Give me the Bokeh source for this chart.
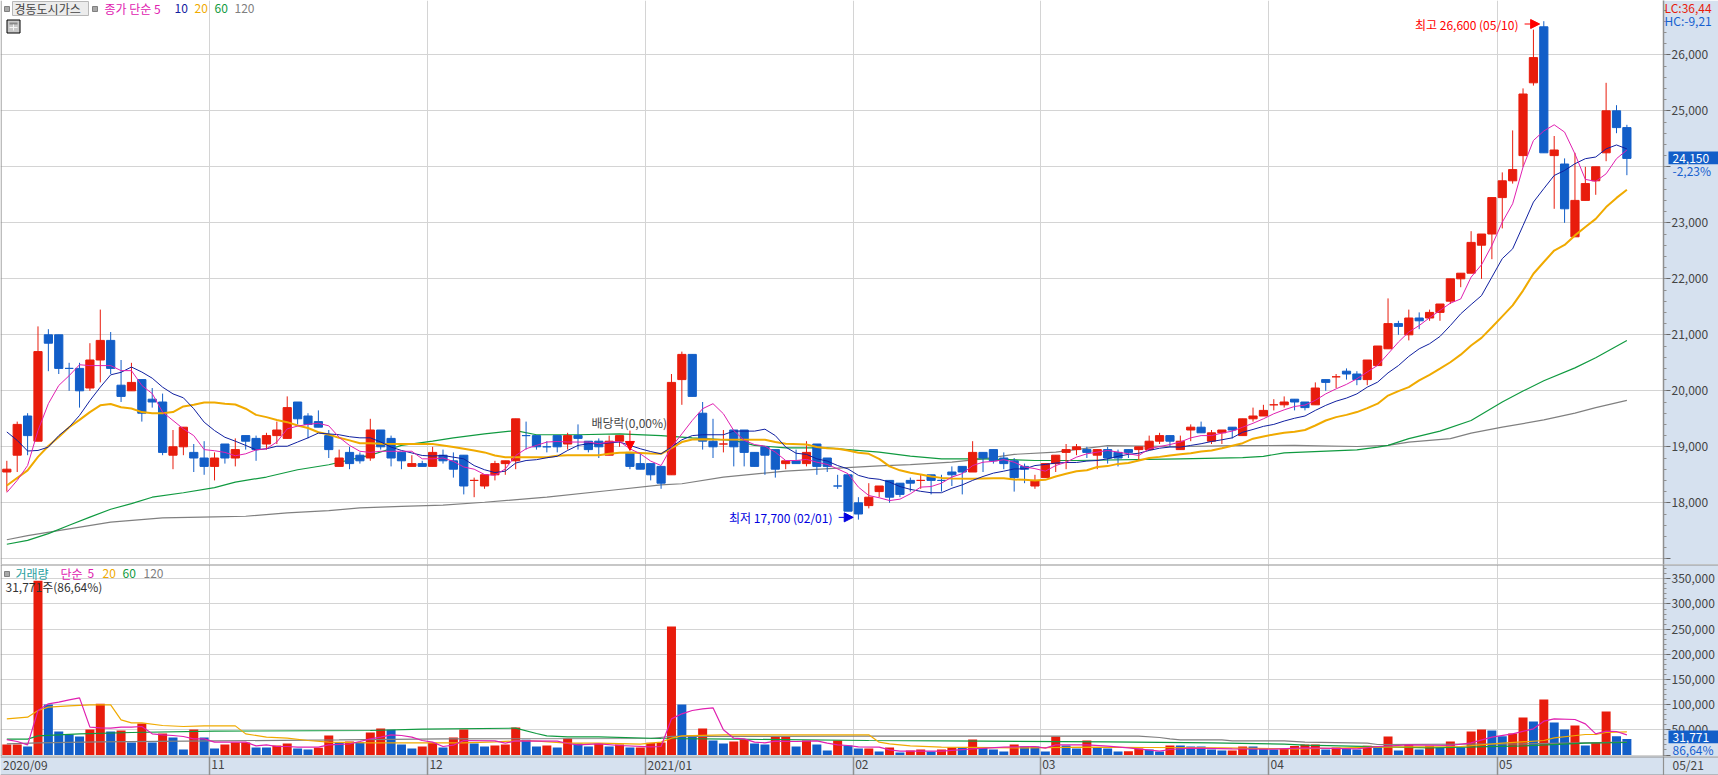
from bokeh.plotting import figure
from bokeh.layouts import column
from bokeh.models import (Label, BoxAnnotation, FixedTicker, Grid, Arrow, NormalHead, Range1d,
                          NumeralTickFormatter, Span, ColumnDataSource)
from bokeh.embed import file_html
from bokeh.resources import INLINE

# ---------- price data (KRW) ----------
opens = [18550,18850,19550,19100,21000,21000,20400,20400,20050,20550,20900,20100,20000,20200,19850,19800,18850,19000,18900,18800,
18650,19050,18800,19200,19150,19050,19200,19150,19800,19550,19450,19200,18650,18900,18850,18800,19300,19150,18900,18650,
18700,18650,18850,18750,18850,18400,18300,18500,18700,18750,19200,19200,19000,19200,19050,19200,19100,19100,18850,19100,
18900,18700,18700,18650,18500,20200,20650,19600,19100,19050,19300,19300,18900,19000,18950,18700,18750,18700,19050,18800,
18300,18500,18000,17950,18200,18400,18350,18400,18400,18500,18400,18550,18650,18550,18900,18950,18800,18750,18650,18300,
18450,18700,18900,18950,18950,18850,18950,18900,18950,18950,18950,19100,19200,18950,19300,19350,19100,19250,19350,19200,
19500,19550,19750,19750,19850,19800,19750,20200,20250,20350,20300,20200,20450,20750,21200,21000,21300,21300,21400,21600,
22000,22100,22600,22800,23450,23750,24200,25500,26500,24200,24050,22750,23400,23750,24250,25000,24700]
highs = [18750,19450,19600,21150,21100,21000,20500,20500,20850,21450,21050,20550,20500,20200,20050,19950,19300,19350,19050,19100,
18900,19050,19150,19200,19200,19250,19450,19900,19800,19600,19650,19300,18950,19000,18900,19500,19300,19200,18900,18850,
18750,19000,18950,18900,18850,18450,18500,18750,18750,19500,19450,19200,19100,19200,19250,19400,19100,19150,19200,19200,
18900,18900,18700,18650,20300,20700,20650,19800,19500,19300,19300,19300,18900,19000,18950,18750,18950,19100,19050,18800,
18500,18500,18100,18350,18300,18400,18350,18450,18500,18500,18500,18650,18650,19100,18900,18950,18900,18800,18700,18500,
18700,18850,19050,19050,19000,18950,19000,18950,18950,19000,19200,19250,19200,19200,19400,19450,19300,19300,19350,19500,
19700,19750,19850,19900,19850,19800,20150,20200,20300,20400,20350,20550,20800,21650,21250,21450,21400,21450,21550,22000,
22100,22850,22800,23450,23900,24650,25400,26450,26600,24550,24150,24250,24000,24000,25500,25100,24750]
lows = [18200,18550,18850,19100,20350,20300,20000,19700,20000,20150,20300,19800,20000,19450,19700,18850,18600,18850,18550,18500,
18400,18700,18650,18950,18750,18950,19050,19150,19400,19150,19350,18800,18650,18600,18700,18750,18950,18650,18600,18650,
18650,18650,18700,18450,18150,18100,18250,18400,18500,18600,18950,18950,18900,18900,18950,18950,18900,18800,18850,19000,
18600,18600,18400,18250,18500,19750,19900,18950,18800,18900,18650,18650,18650,18500,18450,18600,18700,18650,18500,18550,
18250,17850,17700,17900,18100,18000,18100,18200,18250,18150,18200,18300,18150,18550,18550,18700,18600,18200,18350,18250,
18450,18550,18600,18850,18800,18600,18700,18650,18800,18750,18950,19050,19000,18950,19100,19250,19050,19050,19150,19200,
19450,19550,19650,19700,19650,19650,19750,20000,20050,20200,20100,20100,20450,20750,21000,20900,21100,21250,21250,21550,
21850,22100,22000,22350,22900,23700,24000,25450,24250,23250,23000,22750,23400,23500,24100,24600,23850]
closes = [18600,19400,19200,20700,20850,20400,20400,20000,20550,20900,20400,19900,20150,19600,19800,18900,19000,19350,18800,18650,
18800,18800,18950,19100,18950,19200,19300,19700,19500,19400,19350,18950,18800,18700,18750,19300,19000,18800,18750,18700,
18650,18900,18750,18600,18300,18400,18500,18700,18750,19500,19200,19000,19000,19000,19200,19150,18950,19000,19100,19200,
18650,18600,18500,18350,20150,20650,19900,19100,19000,19050,19000,18900,18650,18850,18600,18750,18700,18900,18650,18650,
18300,17850,17800,18100,18300,18100,18150,18350,18400,18400,18400,18500,18550,18900,18800,18750,18700,18450,18600,18400,
18700,18850,18950,19000,18900,18950,18800,18800,18900,19000,19100,19200,19100,19100,19350,19250,19250,19300,19300,19500,
19550,19650,19750,19800,19800,19700,20050,20150,20250,20300,20200,20550,20800,21200,21150,21300,21250,21400,21550,22000,
22100,22650,22800,23450,23750,23950,25300,25950,24250,24300,23250,23400,23700,24000,25000,24700,24150]
doji_red = [45, 69, 88, 122, 128]

ma5 = [18185,18400,18665,19290,19770,20095,20270,20465,20450,20450,20450,20360,20360,20095,19950,19620,19470,19320,19200,18950,
18930,18900,18840,18875,18945,18965,19085,19320,19370,19400,19420,19375,19170,19025,18920,18900,18920,18920,18920,18920,18785,18785,
18800,18740,18640,18600,18505,18490,18605,18845,18965,19025,19085,19095,19085,19085,19085,19055,19085,19095,18965,18875,18745,18665,
18995,19230,19470,19680,19770,19590,19290,19115,19040,19010,18905,18755,18755,18775,18725,18685,18605,18520,18280,
18130,18090,18040,18065,18160,18280,18290,18350,18460,18520,18665,18725,18740,18770,18725,18640,18610,18565,18665,18725,18815,18875,
18905,18935,18905,18875,18845,18965,19005,19040,19085,19160,19200,19200,19245,19280,
19350,19420,19500,19590,19660,19720,19745,19830,19945,20035,20115,20215,20335,20455,20660,20870,21050,21165,21305,21435,21565,21640,
22030,22250,22595,23010,23340,23995,24470,24640,24750,24620,24230,23775,23740,23875,24145,24300]
ma10 = [19265,19115,18925,18935,18995,19200,19350,19560,19825,20065,20285,20330,20425,20335,20225,20065,19945,19875,19680,19440,
19290,19170,19100,19025,18945,18965,19010,19010,19085,19160,19245,19230,19215,19180,19160,19160,19085,18995,18935,18890,18845,18835,
18845,18815,18785,18665,18590,18540,18565,18710,18755,18770,18805,18830,18935,19025,19055,19055,19070,19085,19025,18965,18915,18875,
18995,19125,19200,19215,19215,19215,19280,19280,19280,19315,19200,18995,18885,18865,18785,18745,18665,18605,18490,
18440,18420,18370,18290,18240,18205,18180,18180,18260,18320,18400,18470,18530,18565,18605,18605,18665,18685,18710,18720,18720,18745,
18755,18785,18830,18865,18885,18935,18975,18995,18995,19025,19055,19095,19125,19160,
19260,19310,19365,19400,19460,19510,19550,19650,19740,19815,19870,19945,20065,20155,20320,20450,20615,20750,20840,20970,21165,21375,21540,21700,
22030,22360,22535,22950,23370,23610,23845,23935,24055,24145,24175,24320,24390,24320]
ma20 = [(0,18310),(2,18580),(3,18820),(4,19015),(5,19175),(6,19350),(7,19480),(8,19620),(9,19740),(10,19765),(11,19705),(12,19685),
(13,19620),(14,19600),(15,19600),(16,19620),(17,19720),(18,19750),(19,19790),(20,19790),(21,19770),(22,19755),(23,19680),(24,19570),
(25,19530),(26,19480),(27,19440),(28,19380),(29,19335),(30,19260),(31,19220),(32,19160),(33,19115),(34,19065),(35,19065),(36,19055),
(38,19050),(41,19050),(42,19025),(43,18995),(44,18965),(45,18935),(46,18900),(47,18845),(48,18815),(52,18815),(53,18840),(54,18850),
(57,18850),(58,18875),(59,18895),(60,18900),(62,18880),(63,18875),(64,18975),(65,19085),(66,19130),(67,19135),(68,19130),(73,19125),
(74,19085),(75,19055),(77,19040),(78,18995),(79,18975),(80,18965),(81,18935),(82,18895),(83,18875),(84,18785),(85,18650),(86,18580),
(87,18535),(88,18505),(89,18470),(90,18445),(91,18435),(93,18430),(95,18440),(96,18440),(97,18415),(98,18410),(99,18400),(100,18410),
(101,18470),(102,18520),(103,18565),(104,18580),(105,18640),(106,18655),(107,18695),(108,18710),(109,18755),(110,18800),(111,18820),
(112,18845),(113,18865),(114,18885),(115,18915),(116,18935),(117,18975),(118,19020),(119,19065),(120,19145),(121,19185),(122,19220),
(123,19250),(124,19270),(125,19300),(126,19380),(127,19470),(128,19530),(129,19570),(130,19620),(131,19690),(132,19770),(133,19915),
(134,19995),(135,20065),(136,20185),(137,20285),(138,20395),(139,20510),(140,20645),(141,20810),(142,20945),(143,21135),(144,21330),
(145,21525),(146,21790),(147,22090),(148,22300),(149,22505),(150,22605),(151,22775),(152,22925),(153,23070),(154,23280),(155,23445),(156,23590)]
ma60 = [(0,17260),(2,17330),(4,17450),(6,17600),(8,17745),(10,17885),(12,17985),(14,18100),(17,18180),(20,18270),(22,18370),(25,18460),
(28,18590),(31,18680),(35,18850),(38,19025),(41,19100),(43,19160),(46,19230),(49,19290),(51,19215),(55,19215),(59,19230),(63,19200),
(66,19160),(70,19115),(72,19025),(75,18980),(79,18980),(81,18950),(84,18905),(87,18835),(90,18785),(94,18785),(99,18755),(103,18755),
(113,18785),(119,18805),(121,18830),(123,18890),(130,18945),(132,18995),(133,19025),(135,19145),(138,19280),(141,19470),(144,19800),
(146,19995),(148,20180),(151,20410),(153,20590),(156,20900)]
ma120 = [(0,17340),(2,17415),(6,17535),(10,17655),(15,17730),(20,17750),(23,17760),(27,17820),(31,17860),(34,17910),(38,17935),(42,17960),
(46,18010),(52,18100),(58,18220),(63,18320),(65,18340),(69,18460),(75,18565),(80,18620),(84,18660),(87,18680),(91,18725),(94,18785),
(97,18865),(101,18905),(106,19020),(113,19005),(118,19020),(124,19025),(130,19005),(133,19025),(135,19085),(139,19145),(141,19245),
(144,19350),(148,19480),(151,19600),(153,19700),(156,19830)]

# ---------- volume data ----------
volume = [20900,21000,16900,346000,100300,46700,40700,36700,50600,101600,46700,48700,24800,62600,24800,42700,34800,10900,50600,34800,
12900,20900,24800,24900,14900,14900,18900,22800,12900,10900,14200,38700,24800,26800,24800,44700,52600,50000,20900,12900,16900,24200,
14900,34800,50600,22800,16900,18900,20900,54600,30100,16900,18900,14900,32800,22800,16900,22800,16900,20900,14900,15000,24200,24900,
255200,100300,36700,52600,28800,22800,26800,30800,22800,20900,36700,36700,16900,28800,20900,8900,28800,18900,12900,12900,
7000,14900,5000,8900,10900,7000,10900,14900,14900,30800,14900,10900,7000,20900,16900,16900,7000,36700,18900,12900,28800,14900,12900,
7000,7500,12900,10900,7000,18900,18900,16900,16900,10900,8900,9000,16900,16900,12900,10900,12900,
18000,20900,20950,10900,14900,12900,10900,18200,16900,36700,8900,20900,10900,18200,14900,26800,14900,46700,50600,48700,37400,42700,
74500,66500,110200,64500,50600,58600,18900,25500,86400,37400,31771]
volume_updown = ("RRBRBBBBRR" "BRBRBRBBRB" "BRRRBBRRBB" "RRBRBRRBBB" "RR"
                 "BRRBBRRRBB" "RBRBBRBRBR" "RRRBBRBBRR" "BBRRBRBBRB" "BRBRBRRBRR"
                 "BRBBBRBBBR" "BBRBBBRRBB" "RBBBBBRRBB" "BRRRRBRBBR" "BRBRBRBRBR" "RBBRRBRBBR" "BRRBB")
vol_ma5 = [(0,30700),(1,26800),(2,20200),(3,88400),(4,101600),(5,104900),(6,109500),(7,113500),(8,55300),(9,53900),(10,53300),(11,55300),
(12,55300),(13,56600),(14,42000),(15,40000),(16,38700),(17,36700),(18,32100),(19,32100),(20,25500),(23,25500),(24,18200),(25,20200),
(26,16900),(27,16900),(28,15600),(30,15600),(31,20200),(33,22200),(34,26800),(35,32100),(36,35400),(37,40000),(38,38700),(39,35400),
(40,28800),(41,25500),(42,16900),(43,19500),(44,28800),(47,28100),(48,23500),(49,28100),(53,27500),(54,22800),(55,20200),(57,22200),
(59,18900),(62,16200),(63,16900),(64,71800),(65,81800),(66,88400),(67,91700),(68,93700),(69,50000),(70,33400),(71,32100),(72,25500),
(73,24200),(74,27500),(76,26800),(78,28100),(79,23500),(80,20200),(81,18900),(82,16200),(84,15600),(85,10300),(86,7600),(90,7600),
(93,12200),(96,15600),(99,16900),(100,13600),(101,20200),(104,20200),(106,17500),(108,14200),(111,7600),(112,10900),(114,13600),
(118,12200),(122,11600),(125,14200),(130,12200),(132,16900),(135,20200),(139,18900),(141,24200),(143,35400),(145,42000),(147,52000),
(148,67200),(149,71800),(151,70500),(152,61900),(153,42000),(154,47300),(155,46700),(156,40000)]
vol_ma20 = [(0,71800),(2,75100),(3,88400),(4,95000),(6,97600),(8,99600),(10,99600),(11,69800),(12,63900),(13,63900),(15,58600),(17,56600),
(19,57900),(22,57900),(23,42000),(25,35400),(27,33400),(29,28800),(31,25500),(35,24200),(38,24200),(44,24200),(47,26100),(50,28800),
(54,23500),(57,23500),(61,21500),(63,25500),(64,33400),(65,38100),(69,40000),(83,40000),(84,25500),(85,22200),(87,18200),(90,15600),
(98,14200),(104,15600),(110,14900),(117,14200),(124,12200),(128,13600),(132,15600),(140,16900),(144,23500),(148,28800),(149,34100),
(152,40700),(153,40700),(154,44700),(156,46000)]
vol_ma60 = [(0,31400),(2,31400),(3,38000),(7,42000),(12,44700),(20,47300),(35,48700),(40,51300),(49,53300),(51,42700),(52,38100),(54,36100),
(57,36100),(63,32800),(70,31400),(83,28800),(94,27500),(106,26100),(116,24200),(123,21500),(125,19500),(137,14200),(146,18200),(152,23500),(156,24800)]
vol_ma120 = [(0,22200),(3,24200),(9,26100),(20,28100),(32,30100),(42,32100),(62,32800),(64,37000),(82,37400),(109,37400),(111,34800),(112,32100),
(113,30100),(117,30100),(118,28100),(123,28100),(125,25500),(131,23500),(132,20900),(146,22200),(156,25500)]

# ---------- axis data ----------
price_ticks = [17000,18000,19000,20000,21000,22000,23000,24000,25000,26000]
volume_ticks = [0,50000,100000,150000,200000,250000,300000,350000]
month_ticks = [19.5,40.5,61.5,81.5,99.5,121.5,143.5]
month_names = ["11","12","2021/01","02","03","04","05"]

RED, BLUE = "#e81c0c", "#125ec8"
C5, C10, C20, C60, C120 = "#e020b0", "#1020a0", "#f0aa00", "#109a40", "#808080"
GRID, EDGE, BAND, TXT = "#d4d4d4", "#909090", "#d6e1ef", "#444444"
FONT = "Noto Sans CJK KR"
W, RIGHT = 1718, 55
PX0, PXS = 6.33, 10.385
XS, XE = -PX0 / PXS, (W - RIGHT - PX0) / PXS
H1, H2, H3 = 564, 192, 19
V_TOP, D_TOP = H1, H1 + H2
PAGE_H = H1 + H2 + H3


def lab(fig, H, top0, text, x, y, color=TXT, size="12px", align="left"):
    fig.add_layout(Label(x=x, y=H - (y - top0), x_units="screen", y_units="screen", text=text, text_color=color,
                         text_font=FONT, text_font_size=size, text_align=align, text_baseline="middle"))


def box(fig, H, top0, x0, y0, x1, y1, fill, line=None):
    fig.add_layout(BoxAnnotation(left=x0, right=x1, top=H - (y0 - top0), bottom=H - (y1 - top0),
                                 left_units="screen", right_units="screen", top_units="screen", bottom_units="screen",
                                 fill_color=fill, fill_alpha=1, line_color=line, line_alpha=1 if line else 0, line_width=1))


def style_axis(ax, ticks, minors, hide):
    ax.ticker = FixedTicker(ticks=ticks, minor_ticks=minors)
    ax.formatter = NumeralTickFormatter(format="0,0")
    ax.major_label_overrides = {hide_v: "" for hide_v in hide}
    ax.major_label_text_font = FONT
    ax.major_label_text_font_size = "12px"
    ax.major_label_text_color = TXT
    ax.major_label_standoff = 1
    ax.axis_line_color = EDGE
    ax.axis_line_width = 1.5
    ax.major_tick_line_color = "#666666"
    ax.minor_tick_line_color = EDGE
    ax.major_tick_in = 0
    ax.major_tick_out = 7
    ax.minor_tick_in = 0
    ax.minor_tick_out = 3


def panel(h, ystart, yend, right_axis=True):
    f = figure(width=W, height=h, x_range=Range1d(XS, XE), y_range=Range1d(ystart, yend),
               x_axis_location=None, y_axis_location="right" if right_axis else None,
               toolbar_location=None, output_backend="svg", frame_align=False,
               min_border_left=0, min_border_top=0, min_border_bottom=0, min_border_right=RIGHT,
               outline_line_color=None, background_fill_color="white", border_fill_color=BAND)
    f.xgrid.visible = False
    f.add_layout(Grid(dimension=0, ticker=FixedTicker(ticks=month_ticks), grid_line_color=GRID, grid_line_width=1))
    f.add_layout(Span(location=XS + 0.6 / PXS, dimension="height", line_color=EDGE, line_width=1))
    return f


def line(f, pairs, color, width):
    f.line([a for a, _ in pairs], [b for _, b in pairs], line_color=color, line_width=width)


n = len(closes)
xs = list(range(n))
bar_col = [RED if (c > o or (c == o and i in doji_red)) else BLUE for i, (o, c) in enumerate(zip(opens, closes))]

# ---------- price panel: 56 px per 1,000 with 26,000 at y = 54.3 ----------
P_PX = 0.056
py = lambda y: 26000 + (54.3 - y) / P_PX
p = panel(H1, py(H1), py(0))
style_axis(p.yaxis[0], price_ticks, list(range(17000, 27000, 200)), [17000, 24000])
p.ygrid.ticker = FixedTicker(ticks=price_ticks)
p.ygrid.grid_line_color = GRID

line(p, ma120, C120, 1.2)
line(p, ma60, C60, 1.2)
src = ColumnDataSource(dict(x=xs, o=opens, h=highs, l=lows, c=closes, col=bar_col,
                            top=[max(a, b) for a, b in zip(opens, closes)], bot=[min(a, b) for a, b in zip(opens, closes)]))
p.segment("x", "h", "x", "l", source=src, line_color="col", line_width=1)
p.vbar("x", width=8.2 / PXS, top="top", bottom="bot", source=src, fill_color="col", line_color="col", line_width=1)
line(p, ma20, C20, 2)
p.line(xs, ma10, line_color=C10, line_width=1)
p.line(xs, ma5, line_color=C5, line_width=1)

# event markers
p.add_layout(Arrow(end=NormalHead(size=9, fill_color="#ff0000", line_color="#ff0000"), x_start=146.15, y_start=26550, x_end=147.6, y_end=26550,
                   line_color="#ff0000", line_width=1))
p.add_layout(Arrow(end=NormalHead(size=9, fill_color="#0000e0", line_color="#0000e0"), x_start=80.1, y_start=17740, x_end=81.5, y_end=17740,
                   line_color="#0000e0", line_width=1))
p.add_layout(Arrow(end=NormalHead(size=9, fill_color="#ff0000", line_color="#ff0000"), x_start=60, y_start=19290, x_end=60, y_end=18935,
                   line_color="#ff0000", line_width=1))
lab(p, H1, 0, "최고 26,600 (05/10)", 1518, 23.5, "#ff0000", align="right")
lab(p, H1, 0, "최저 17,700 (02/01)", 832, 516.5, "#0000e0", align="right")
lab(p, H1, 0, "배당락(0,00%)", 591, 422, TXT)

# legend
box(p, H1, 0, 4, 6, 9, 11, "#a8a8a8", "#808080")
box(p, H1, 0, 12, 1, 88, 15, "#ececec", "#b8b8b8")
lab(p, H1, 0, "경동도시가스", 14, 8, TXT)
box(p, H1, 0, 92, 6, 97, 11, "#a8a8a8", "#808080")
lab(p, H1, 0, "종가 단순 5", 104, 8, C5)
lab(p, H1, 0, "10", 174, 8, C10)
lab(p, H1, 0, "20", 194, 8, C20)
lab(p, H1, 0, "60", 214, 8, C60)
lab(p, H1, 0, "120", 234, 8, C120)
box(p, H1, 0, 6.5, 19.5, 19.5, 32.5, "#c8c8c8", "#000000")
box(p, H1, 0, 9, 22, 17, 24, "#888888")
box(p, H1, 0, 12.5, 24, 13.5, 30, "#f4f4f4")
box(p, H1, 0, 9, 26.5, 17, 27.5, "#f4f4f4")

# ---------- volume panel: 25.17 px per 50,000 with 0 at y = 754.5 ----------
vy = lambda y: (754.5 - y) * 1986.6
v = panel(H2, vy(V_TOP + H2), vy(V_TOP))
style_axis(v.yaxis[0], volume_ticks, list(range(0, 380000, 10000)), [0])
v.ygrid.ticker = FixedTicker(ticks=volume_ticks)
v.ygrid.grid_line_color = GRID
vcol = [RED if ch == "R" else BLUE for ch in volume_updown]
vsrc = ColumnDataSource(dict(x=xs, v=volume, col=vcol))
v.vbar("x", width=9 / PXS, top="v", bottom=0, source=vsrc, fill_color="col", line_color=None)
line(v, vol_ma120, C120, 1.2)
line(v, vol_ma60, C60, 1.2)
line(v, vol_ma20, C20, 1.2)
line(v, vol_ma5, C5, 1.2)

box(v, H2, V_TOP, 4, 571, 9, 576, "#a8a8a8", "#808080")
lab(v, H2, V_TOP, "거래량", 15, 572.5, "#2aa0a0")
lab(v, H2, V_TOP, "단순", 60, 572.5, C5)
lab(v, H2, V_TOP, "5", 87, 572.5, C5)
lab(v, H2, V_TOP, "20", 102, 572.5, C20)
lab(v, H2, V_TOP, "60", 122, 572.5, C60)
lab(v, H2, V_TOP, "120", 143, 572.5, C120)
lab(v, H2, V_TOP, "31,771주(86,64%)", 5, 586, "#333333")

# ---------- date strip ----------
d = panel(H3, 0, 1, right_axis=False)
d.background_fill_color = BAND
d.center = []
d.add_layout(Grid(dimension=0, ticker=FixedTicker(ticks=month_ticks), grid_line_color=EDGE, grid_line_width=1.5))
lab(d, H3, D_TOP, "2020/09", 2.5, 764)
for t, name in zip(month_ticks, month_names):
    lab(d, H3, D_TOP, name, PX0 + t * PXS + 2, 764)

# ---------- transparent sheet across the whole page: rules and the right band's readouts ----------
o = figure(width=W, height=PAGE_H, x_range=Range1d(0, W), y_range=Range1d(PAGE_H, 0),
           x_axis_location=None, y_axis_location=None, toolbar_location=None, output_backend="svg", frame_align=False,
           min_border=0, outline_line_color=None, background_fill_alpha=0, border_fill_alpha=0,
           styles={"position": "absolute", "left": "0px", "top": "0px"})
o.grid.visible = False
o.segment([0, 0, 0, W - RIGHT], [V_TOP + 0.5, D_TOP + 0.5, PAGE_H - 0.5, D_TOP],
          [W, W, W, W - RIGHT], [V_TOP + 0.5, D_TOP + 0.5, PAGE_H - 0.5, PAGE_H], line_color=EDGE, line_width=1.2)
lab(o, PAGE_H, 0, "LC:36,44", 1664, 7, "#e81c0c")
lab(o, PAGE_H, 0, "HC:-9,21", 1664, 19.5, "#1560d0")
box(o, PAGE_H, 0, 1668, 151, 1718, 163.7, BLUE)
lab(o, PAGE_H, 0, "24,150", 1672, 157.5, "white")
lab(o, PAGE_H, 0, "-2,23%", 1672, 169.5, "#1560d0")
box(o, PAGE_H, 0, 1668, 730, 1718, 742.7, BLUE)
lab(o, PAGE_H, 0, "31,771", 1672, 736.5, "white")
lab(o, PAGE_H, 0, "86,64%", 1672, 748.5, "#1560d0")
lab(o, PAGE_H, 0, "05/21", 1672, 764)

page = column(p, v, d, o, spacing=0, styles={"position": "absolute", "left": "0px", "top": "0px"})
open("out.html", "w").write(file_html(page, INLINE))
